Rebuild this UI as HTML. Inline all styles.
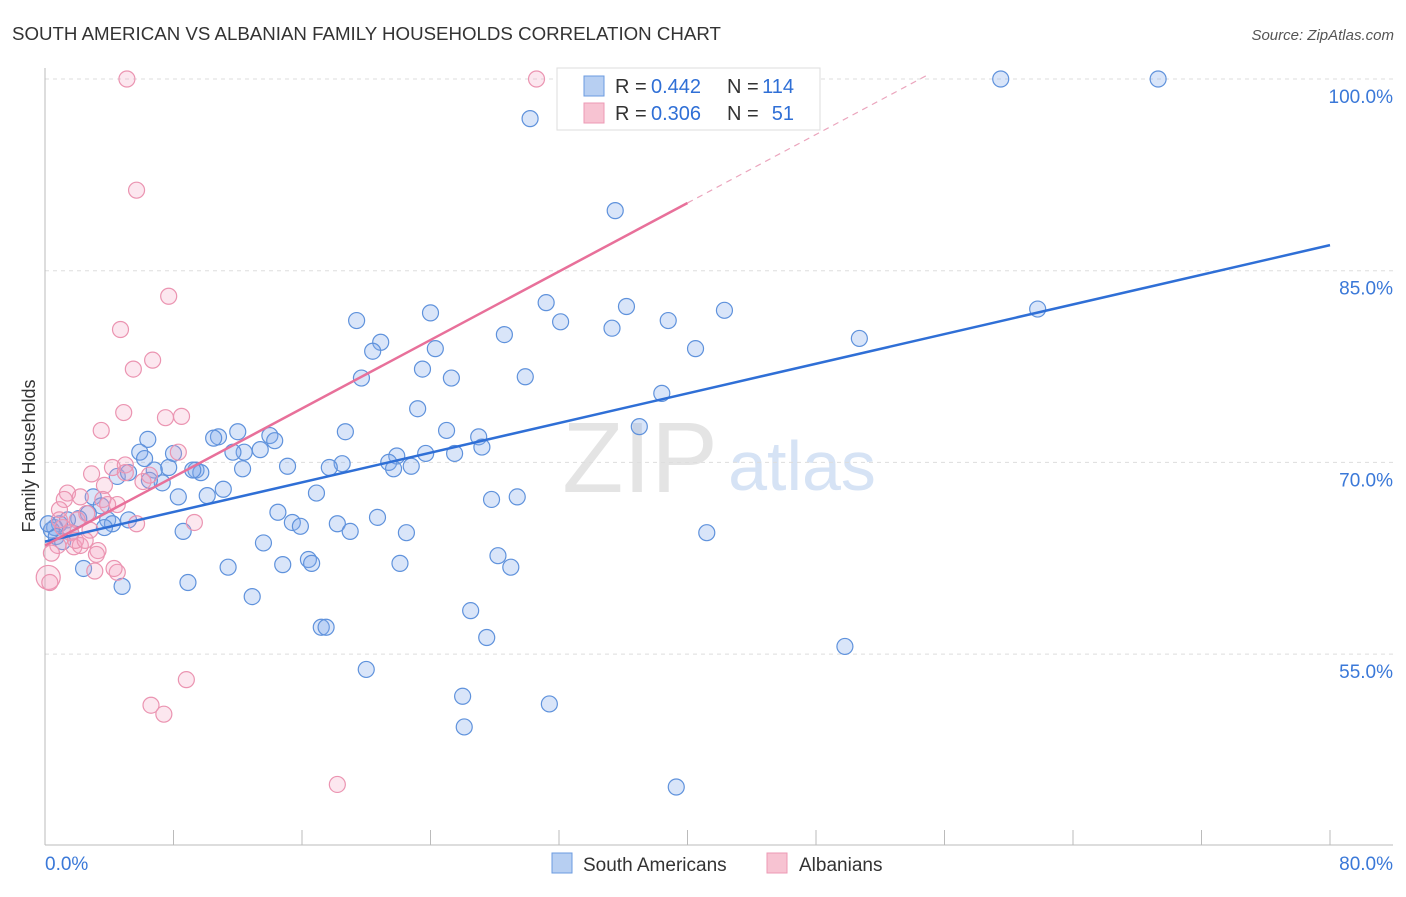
<!DOCTYPE html>
<html><head><meta charset="utf-8"><style>
body{margin:0;background:#fff;font-family:"Liberation Sans",sans-serif;}
svg text{font-family:"Liberation Sans",sans-serif;}
</style></head><body>
<svg id="c" width="1406" height="892">
<text x="12" y="40" font-size="18.7" fill="#333">SOUTH AMERICAN VS ALBANIAN FAMILY HOUSEHOLDS CORRELATION CHART</text>
<text x="1394" y="40" font-size="15" fill="#555" font-style="italic" text-anchor="end">Source: ZipAtlas.com</text>
<text x="35" y="456" font-size="18" fill="#333" transform="rotate(-90 35 456)" text-anchor="middle">Family Households</text>
<text x="640" y="492" font-size="100" fill="#e4e4e4" font-family="Liberation Serif" text-anchor="middle">ZIP</text>
<text x="802" y="490" font-size="70" fill="#d6e3f5" text-anchor="middle">atlas</text>
<g id="grid"></g><g id="marks"></g>
<g>
<rect x="557" y="68" width="263" height="62" fill="#fff" stroke="#ddd"/>
<rect x="584" y="76" width="20" height="20" fill="#b7cff2" stroke="#6b9be0"/>
<rect x="584" y="103" width="20" height="20" fill="#f7c3d2" stroke="#ec9ab4"/>
<text x="615" y="93" font-size="20" fill="#333">R =</text>
<text x="651" y="93" font-size="20" fill="#2f6fd6">0.442</text>
<text x="727" y="93" font-size="20" fill="#333">N =</text>
<text x="794" y="93" font-size="20" fill="#2f6fd6" text-anchor="end">114</text>
<text x="615" y="120" font-size="20" fill="#333">R =</text>
<text x="651" y="120" font-size="20" fill="#2f6fd6">0.306</text>
<text x="727" y="120" font-size="20" fill="#333">N =</text>
<text x="794" y="120" font-size="20" fill="#2f6fd6" text-anchor="end">51</text>
</g>
<g>
<rect x="552" y="853" width="20" height="20" fill="#b7cff2" stroke="#6b9be0"/>
<text x="583" y="871" font-size="19" fill="#333">South Americans</text>
<rect x="767" y="853" width="20" height="20" fill="#f7c3d2" stroke="#ec9ab4"/>
<text x="799" y="871" font-size="19" fill="#333">Albanians</text>
</g>
</svg>
<script>
const xTicks=[0,80];
const yTicks=[55,70,85,100];
const blueX=[30.2,59.5,69.3,35.5,31.2,32.1,36.2,35.3,38.8,42.3,61.8,50.7,40.5,24.0,19.4,20.9,20.4,24.3,28.6,23.5,25.3,19.7,29.9,23.2,38.4,37.0,25.0,27.0,27.2,25.5,23.7,21.9,21.4,21.7,22.8,18.7,18.5,17.7,15.1,16.9,14.5,15.4,15.9,18.2,19.0,20.7,22.5,27.8,29.4,41.2,28.2,29.0,22.1,16.4,16.6,14.8,26.5,27.5,17.2,17.5,20.0,26.0,26.1,31.4,39.3,49.8,14.0,14.3,12.4,12.0,10.8,10.5,11.7,13.4,12.3,9.4,9.7,7.7,6.8,6.4,5.9,8.0,7.3,6.5,8.3,10.1,11.1,4.5,3.0,3.5,3.9,5.2,4.2,3.7,2.7,2.1,1.4,0.9,0.6,0.4,0.7,1.6,0.2,1.1,2.4,4.8,8.9,11.4,12.9,8.6,13.6,6.2,9.2,5.2];
const blueY=[96.9,100,100,89.7,82.5,81.0,82.2,80.5,81.1,81.9,82.0,79.7,78.9,81.7,81.1,79.4,78.7,78.9,80.0,77.3,76.6,76.6,76.7,74.2,75.4,72.8,72.5,72.0,71.2,70.7,70.7,70.5,70.0,69.5,69.7,72.4,69.9,69.6,69.7,67.6,66.1,65.3,65.0,65.2,64.6,65.7,64.5,67.1,67.3,64.5,62.7,61.8,62.1,62.4,62.1,62.0,58.4,56.3,57.1,57.1,53.8,51.7,49.3,51.1,44.6,55.6,72.1,71.7,70.8,72.4,72.0,71.9,70.8,71.0,69.5,69.4,69.2,69.6,69.4,71.8,70.8,70.7,68.4,68.6,67.3,67.4,67.9,68.9,67.3,66.6,65.5,65.5,65.2,64.9,66.0,65.6,65.5,65.2,64.9,64.7,64.2,64.5,65.2,63.8,61.7,60.3,60.6,61.8,59.5,64.6,63.7,70.3,69.4,69.2];
const pinkX=[5.1,30.6,5.7,7.7,4.7,6.7,5.5,4.9,7.5,8.5,3.5,8.3,5.0,4.2,2.9,3.7,6.1,6.5,1.4,1.2,2.2,3.6,4.5,0.9,2.6,2.0,5.7,9.3,1.1,1.6,2.8,1.8,0.8,2.2,3.3,3.2,0.4,4.5,4.3,3.1,0.2,0.3,8.8,6.6,7.4,18.2,0.9,1.9,2.5,3.9,5.0];
const pinkY=[100,100,91.3,83.0,80.4,78.0,77.3,73.9,73.5,73.6,72.5,70.8,69.8,69.6,69.1,68.2,68.5,69.0,67.6,67.1,67.3,67.1,66.7,66.3,66.0,65.5,65.2,65.3,64.9,64.5,64.7,63.4,63.5,63.5,63.1,62.8,62.9,61.4,61.7,61.5,61.0,60.6,53.0,51.0,50.3,44.8,65.5,63.9,63.9,66.7,69.2];
const blueTrend=[63.8,87.0];
const pinkTrend=[63.5,90.3];
const NS='http://www.w3.org/2000/svg';
const X=v=>45+v*(1285/80);
const Y=v=>79+(100-v)*12.78;
function mk(t,a,p){const e=document.createElementNS(NS,t);for(const k in a)e.setAttribute(k,a[k]);p.appendChild(e);return e;}
const g=document.getElementById('grid'),m=document.getElementById('marks');
yTicks.forEach(v=>{
 const l=mk('line',{x1:45,x2:1393,y1:Y(v),y2:Y(v),stroke:'#ddd','stroke-dasharray':'4,4'},g);
 
 
 const t=mk('text',{x:1393,y:Y(v)+24,'font-size':19,fill:'#3a78d8','text-anchor':'end'},g);
 t.textContent=v.toFixed(1)+'%';
 
 
});
for(let i=0;i<=80;i+=8){
 const l=mk('line',{x1:X(i),x2:X(i),y1:830,y2:845,stroke:'#bbb'},g);
 
 
}
mk('line',{x1:45,x2:45,y1:68,y2:845,stroke:'#bbb'},g);
mk('line',{x1:45,x2:1393,y1:845,y2:845,stroke:'#bbb'},g);
xTicks.forEach((v,i)=>{
 const t=mk('text',{x:i?1393:45,y:870,'font-size':19,fill:'#3a78d8','text-anchor':i?'end':'start'},g);
 t.textContent=v.toFixed(1)+'%';
 
 
});
blueX.forEach((x,i)=>{
 const c=mk('circle',{cx:X(x),cy:Y(blueY[i]),r:8,fill:'rgba(130,170,235,0.3)',stroke:'#5f92dc','stroke-width':1.2},m);
 
 
});
pinkX.forEach((x,i)=>{
 const c=mk('circle',{cx:X(x),cy:Y(pinkY[i]),r:(i==40?12:8),fill:'rgba(245,160,190,0.25)',stroke:'#eb94b1','stroke-width':1.2},m);
 
 
});
const bl=mk('line',{x1:X(0),y1:Y(blueTrend[0]),x2:X(80),y2:Y(blueTrend[1]),stroke:'#2f6fd6','stroke-width':2.5},m);


const slope=(pinkTrend[1]-pinkTrend[0])/40;
const pl=mk('line',{x1:X(0),y1:Y(pinkTrend[0]),x2:X(40),y2:Y(pinkTrend[1]),stroke:'#e8709a','stroke-width':2.5},m);


const xe=(100.3-pinkTrend[0])/slope;
const pd=mk('line',{x1:X(40),y1:Y(pinkTrend[1]),x2:X(xe),y2:Y(pinkTrend[0]+slope*xe),stroke:'#eba5bd','stroke-width':1.2,'stroke-dasharray':'6,5'},m);


</script>
</body></html>
